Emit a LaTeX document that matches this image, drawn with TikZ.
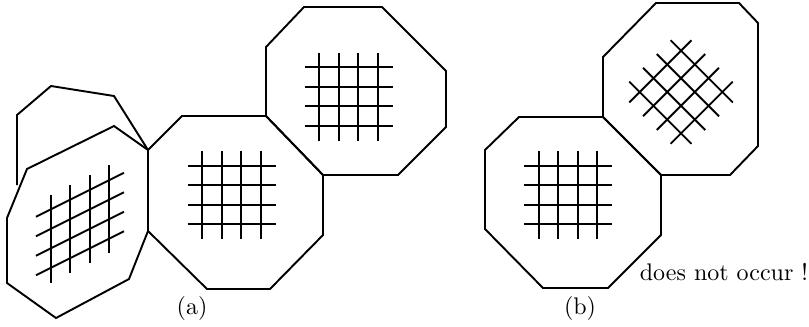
\documentclass[tikz,border=0pt]{standalone}
\usetikzlibrary{positioning}

\begin{document}
\begin{tikzpicture}[x=0.4167pt, y=-0.4167pt,
    cell/.style={thick, line join=miter},
    mesh/.pic={
      \foreach \k in {-29.25,-9.75,9.75,29.25} {
        \draw[thick] (\k,-44) -- (\k,44);
        \draw[thick] (-44,\k) -- (44,\k);
      }
    },
    textbox/.style={draw=none, fill=none, inner sep=1pt}
]
\useasboundingbox (0,0) rectangle (809,326);

% (a)
\draw[cell] (17,185) -- (17,115) -- (51,86) -- (114,96) -- (148,150);
\draw[cell] (27,169) -- (114,126) -- (148,150) -- (148,231)
    -- (129,279) -- (56,318) -- (7,283) -- (7,218) -- cycle;
\draw[cell] (148,150) -- (182,116) -- (266,116) -- (323,175)
    -- (323,235) -- (270,289) -- (207,289) -- (148,231) -- cycle;
\draw[cell] (266,47) -- (304,7) -- (382,7) -- (446,71)
    -- (446,127) -- (398,175) -- (323,175) -- (266,116) -- cycle;

\pic[yslant=0.5] at (80,224) {mesh};
\pic at (231.5,195) {mesh};
\pic at (348.5,96.5) {mesh};

% (b)
\draw[cell] (485,150) -- (519,117) -- (603,117) -- (661,175)
    -- (661,235) -- (608,288) -- (543,288) -- (485,229) -- cycle;
\draw[cell] (603,57) -- (656,3) -- (739,3) -- (758,23)
    -- (758,146) -- (730,175) -- (661,175) -- (603,117) -- cycle;

\pic at (568,195) {mesh};
\pic[rotate=45] at (681,92) {mesh};

\node[textbox] (lbla) at (192,308) {(a)};
\node[textbox] (lblb) at (580,308) {(b)};
\node[textbox, anchor=base west] (note) at (637,280) {does not occur !};
\end{tikzpicture}
\end{document}
